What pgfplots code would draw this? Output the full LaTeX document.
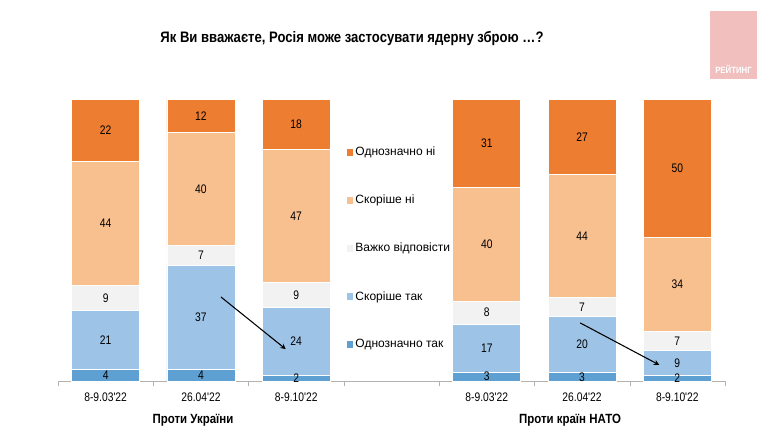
\documentclass[border=0pt]{standalone}
\usepackage{fontspec}
\setmainfont{Liberation Sans}
\newfontfamily\narrow{Liberation Sans}[FakeStretch=0.86]
\newfontfamily\condfont{Liberation Sans}[FakeStretch=0.83]
\usepackage{pgfplots}
\pgfplotsset{compat=1.18}
\usepackage{pgfplotstable}
\definecolor{dblue}{HTML}{5FA0D3}
\definecolor{lblue}{HTML}{9DC3E6}
\definecolor{lgray}{HTML}{F2F2F2}
\definecolor{lorange}{HTML}{F8BF8F}
\definecolor{dorange}{HTML}{ED7D31}
\definecolor{logopink}{HTML}{F0BFBE}

% stacked shares (normalised so each bar fills 100)
\pgfplotstableread{
x a b c d e
0 4 21 9 44 22
1 4 37 7 40 12
2 2 24 9 47 18
4 3.03 17.17 8.08 40.40 31.32
5 2.97 19.80 6.93 43.56 26.74
6 1.96 8.82 6.86 33.33 49.03
}\bars

% label positions (segment middles) and shown values
\pgfplotstableread{
x y lab
0 2 4
0 14.5 21
0 29.5 9
0 56 44
0 89 22
1 2 4
1 22.5 37
1 44.5 7
1 68 40
1 94 12
2 1 2
2 14 24
2 30.5 9
2 58.5 47
2 91 18
4 1.52 3
4 11.62 17
4 24.24 8
4 48.48 40
4 84.34 31
5 1.49 3
5 12.87 20
5 26.24 7
5 51.48 44
5 86.63 27
6 0.98 2
6 6.37 9
6 14.21 7
6 34.31 34
6 75.49 50
}\labs

\begin{document}
\begin{tikzpicture}[x=1pt,y=1pt]
\useasboundingbox (0pt,0pt) rectangle (573pt,333pt);
\fill[white] (0pt,0pt) rectangle (573pt,333pt);
% logo
\fill[logopink] (532.5pt,273.75pt) rectangle (567.75pt,324.75pt);
\node[text=white, font=\narrow\bfseries\fontsize{6.8}{7}\selectfont] at (550.1pt,281pt) {РЕЙТИНГ};
% title
\node[font=\narrow\bfseries\fontsize{11.4}{13}\selectfont] at (264pt,304pt) {Як Ви вважаєте, Росія може застосувати ядерну зброю …?};

\begin{axis}[
  at={(43.5pt,47.25pt)}, anchor=south west,
  scale only axis, width=500.25pt, height=211.5pt,
  xmin=-0.5, xmax=6.5, ymin=0, ymax=100,
  ybar stacked, bar width=0.714,
  axis x line*=bottom, hide y axis,
  x axis line style={draw=gray!60, -},
  xtick={0,1,2,4,5,6},
  xticklabels={8-9.03'22,26.04'22,8-9.10'22,8-9.03'22,26.04'22,8-9.10'22},
  minor xtick={-0.5,0.5,1.5,2.5,3.5,4.5,5.5,6.5},
  major tick length=0pt, minor tick length=3.75pt,
  tick align=outside, minor tick style={gray!60},
  xticklabel style={font=\condfont\fontsize{9.3}{10}\selectfont, yshift=-5pt},
  reverse legend,
  legend cell align=left,
  legend image code/.code={\fill[#1,draw=none] (0pt,-2.4pt) rectangle (4.8pt,2.4pt);},
  legend style={at={(0.433,0.837)}, anchor=north west, draw=none, fill=none,
    font=\fontsize{9}{10}\selectfont, row sep=25pt, inner sep=0pt,
    nodes={inner sep=1.5pt}},
  clip=false,
]
\addplot[fill=dblue, draw=white, line width=0.6pt] table[x=x,y=a] {\bars};
\addlegendentry{Однозначно так}
\addplot[fill=lblue, draw=white, line width=0.6pt] table[x=x,y=b] {\bars};
\addlegendentry{Скоріше так}
\addplot[fill=lgray, draw=white, line width=0.6pt] table[x=x,y=c] {\bars};
\addlegendentry{Важко відповісти}
\addplot[fill=lorange, draw=white, line width=0.6pt] table[x=x,y=d] {\bars};
\addlegendentry{Скоріше ні}
\addplot[fill=dorange, draw=white, line width=0.6pt] table[x=x,y=e] {\bars};
\addlegendentry{Однозначно ні}
\end{axis}

\begin{axis}[
  at={(43.5pt,47.25pt)}, anchor=south west,
  scale only axis, width=500.25pt, height=211.5pt,
  xmin=-0.5, xmax=6.5, ymin=0, ymax=100,
  hide axis, clip=false,
]
\addplot[draw=none, mark=none, point meta=explicit symbolic,
  nodes near coords,
  every node near coord/.append style={anchor=center, font=\condfont\fontsize{9.3}{10}\selectfont, inner sep=0pt}]
  table[x=x,y=y,meta=lab] {\labs};
\draw[-stealth, line width=0.8pt] (axis cs:1.21,29.8) -- (axis cs:1.89,11.3);
\draw[-stealth, line width=0.8pt] (axis cs:4.98,20.6) -- (axis cs:5.81,5.7);
\end{axis}

\node[font=\narrow\bfseries\fontsize{10}{12}\selectfont] at (144.75pt,18pt) {Проти України};
\node[font=\narrow\bfseries\fontsize{10}{12}\selectfont] at (427.5pt,18pt) {Проти країн НАТО};
\end{tikzpicture}
\end{document}
